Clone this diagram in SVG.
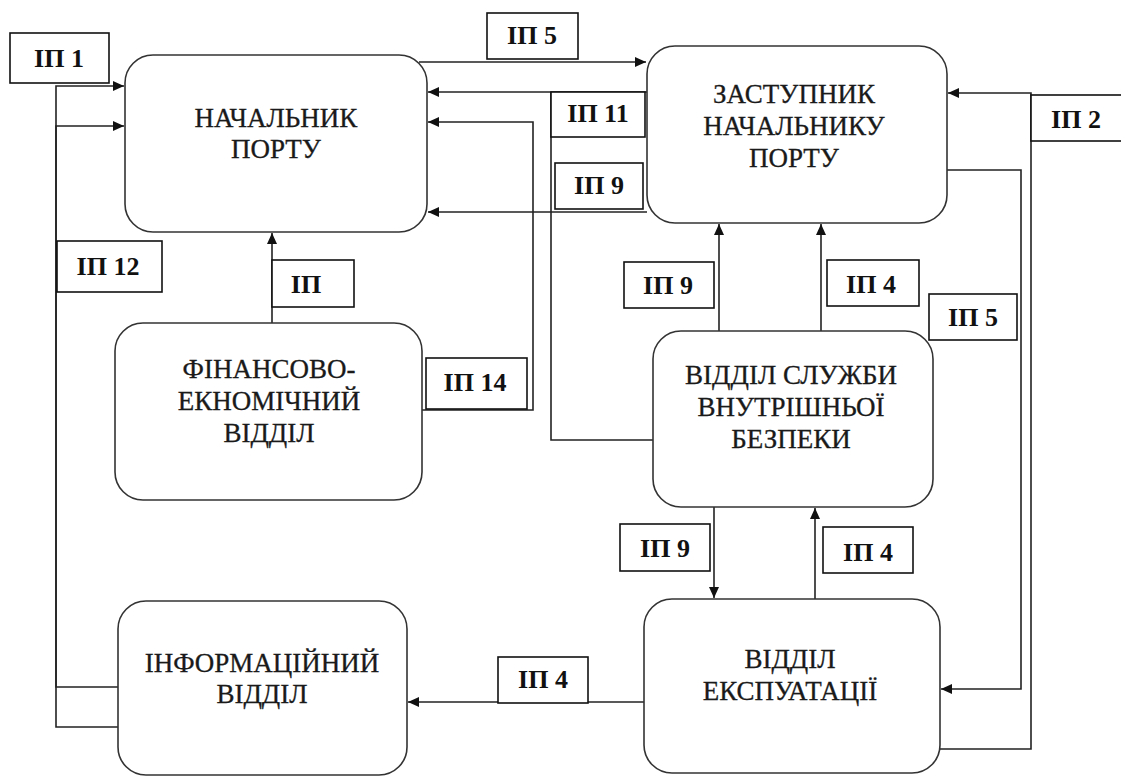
<svg xmlns="http://www.w3.org/2000/svg" width="1121" height="776" viewBox="0 0 1121 776">
<defs>
<style>
.node rect{fill:#fff;stroke:#333;stroke-width:1.6}
.node text{font-family:"Liberation Serif","DejaVu Serif",serif;font-size:27px;fill:#1a1a1a;stroke:#1a1a1a;stroke-width:0.3;text-anchor:middle}
.lbl rect{fill:#fff;stroke:#111;stroke-width:1.6}
.lbl text{font-family:"Liberation Serif","DejaVu Serif",serif;font-size:26px;font-weight:bold;fill:#111;text-anchor:middle}
.conn path{fill:none;stroke:#222;stroke-width:1.6}
</style>
<marker id="arr" markerUnits="userSpaceOnUse" markerWidth="12" markerHeight="10" refX="11" refY="5" orient="auto">
<path d="M0,0 L11,5 L0,10 z" fill="#111"/>
</marker>
</defs>
<rect width="1121" height="776" fill="#fff"/>

<g id="connectors" class="conn">
<path d="M119,687 H56 V86 H124" marker-end="url(#arr)"/>
<path d="M119,727 H56 V126 H124" marker-end="url(#arr)"/>
<path d="M419,62 H646" marker-end="url(#arr)"/>
<path d="M647,92 H428" marker-end="url(#arr)"/>
<path d="M653,440 H551 V92"/>
<path d="M422,410 H533 V122 H428" marker-end="url(#arr)"/>
<path d="M647,212 H428" marker-end="url(#arr)"/>
<path d="M272,323 V233" marker-end="url(#arr)"/>
<path d="M719,331 V224" marker-end="url(#arr)"/>
<path d="M821,331 V224" marker-end="url(#arr)"/>
<path d="M947,170 H1021 V689 H941" marker-end="url(#arr)"/>
<path d="M940,749 H1031 V93 H948" marker-end="url(#arr)"/>
<path d="M714,507 V598" marker-end="url(#arr)"/>
<path d="M815,599 V508" marker-end="url(#arr)"/>
<path d="M644,702 H408" marker-end="url(#arr)"/>
</g>

<g id="n-nachalnyk" class="node">
<rect x="125" y="55" width="302" height="177" rx="28"/>
<text x="276" y="127">НАЧАЛЬНИК</text>
<text x="276" y="158">ПОРТУ</text>
</g>
<g id="n-zastupnyk" class="node">
<rect x="647" y="46" width="300" height="177" rx="28"/>
<text x="794" y="103">ЗАСТУПНИК</text>
<text x="794" y="135">НАЧАЛЬНИКУ</text>
<text x="794" y="167">ПОРТУ</text>
</g>
<g id="n-finansovo" class="node">
<rect x="115" y="323" width="307" height="177" rx="28"/>
<text x="269" y="378">ФІНАНСОВО-</text>
<text x="269" y="410">ЕКНОМІЧНИЙ</text>
<text x="269" y="442">ВІДДІЛ</text>
</g>
<g id="n-sluzhby" class="node">
<rect x="653" y="331" width="280" height="176" rx="28"/>
<text x="791" y="384">ВІДДІЛ СЛУЖБИ</text>
<text x="791" y="416">ВНУТРІШНЬОЇ</text>
<text x="791" y="448">БЕЗПЕКИ</text>
</g>
<g id="n-informatsiinyi" class="node">
<rect x="118" y="601" width="289" height="174" rx="28"/>
<text x="262" y="672">ІНФОРМАЦІЙНИЙ</text>
<text x="262" y="703">ВІДДІЛ</text>
</g>
<g id="n-ekspluatatsii" class="node">
<rect x="644" y="599" width="296" height="174" rx="28"/>
<text x="790" y="668">ВІДДІЛ</text>
<text x="790" y="700">ЕКСПУАТАЦІЇ</text>
</g>

<g id="l-ip1" class="lbl"><rect x="10" y="33" width="99" height="50"/><text x="59" y="67">ІП 1</text></g>
<g id="l-ip5a" class="lbl"><rect x="487" y="13" width="91" height="46"/><text x="532" y="44">ІП 5</text></g>
<g id="l-ip11" class="lbl"><rect x="551" y="92" width="94" height="45"/><text x="598" y="122">ІП 11</text></g>
<g id="l-ip9a" class="lbl"><rect x="555" y="163" width="88" height="46"/><text x="599" y="194">ІП 9</text></g>
<g id="l-ip2" class="lbl"><rect x="1031" y="95" width="100" height="46"/><text x="1076" y="128">ІП 2</text></g>
<g id="l-ip12" class="lbl"><rect x="57" y="241" width="105" height="51"/><text x="108" y="275">ІП 12</text></g>
<g id="l-ip" class="lbl"><rect x="272" y="260" width="82" height="47"/><text x="306" y="293">ІП</text></g>
<g id="l-ip14" class="lbl"><rect x="426" y="358" width="101" height="51"/><text x="475" y="391">ІП 14</text></g>
<g id="l-ip9b" class="lbl"><rect x="624" y="262" width="90" height="46"/><text x="668" y="294">ІП 9</text></g>
<g id="l-ip4a" class="lbl"><rect x="827" y="260" width="92" height="46"/><text x="871" y="293">ІП 4</text></g>
<g id="l-ip5b" class="lbl"><rect x="929" y="294" width="88" height="46"/><text x="973" y="326">ІП 5</text></g>
<g id="l-ip9c" class="lbl"><rect x="620" y="524" width="90" height="47"/><text x="665" y="557">ІП 9</text></g>
<g id="l-ip4b" class="lbl"><rect x="823" y="527" width="90" height="46"/><text x="868" y="561">ІП 4</text></g>
<g id="l-ip4c" class="lbl"><rect x="498" y="657" width="90" height="46"/><text x="543" y="688">ІП 4</text></g>
</svg>
